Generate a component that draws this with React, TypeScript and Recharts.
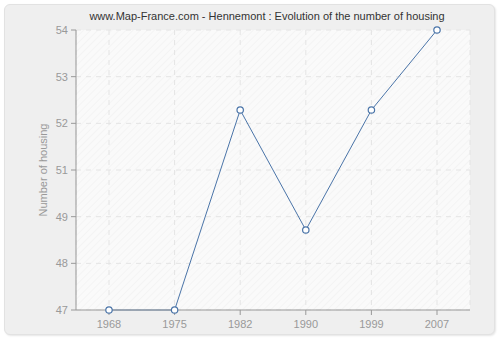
import { LineChart, Line, XAxis, YAxis, CartesianGrid } from 'recharts';

const years = ['1968', '1975', '1982', '1990', '1999', '2007'];
const housing = [47, 47, 52, 49, 52, 54];
const yTicks = [47, 48.1667, 49.3333, 50.5, 51.6667, 52.8333, 54];

const data = years.map((year, i) => ({ year, value: housing[i] }));

const FONT = '"Liberation Sans", Arial, sans-serif';

export default function App() {
    return (
        <div style={{ position: 'absolute', left: 0, top: 0, width: 500, height: 340, background: '#fff', fontFamily: FONT }}>
            <div style={{ position: 'absolute', left: 4, top: 4, width: 491, height: 331, background: '#efefef', border: '1px solid #e2e2e2', borderRadius: 6, boxSizing: 'border-box', boxShadow: '1px 1px 2px #e6e6e6' }} />
            <div style={{ position: 'absolute', left: 0, top: 10, width: 534, textAlign: 'center', fontSize: 11, color: '#333' }}>
                www.Map-France.com - Hennemont : Evolution of the number of housing
            </div>
            <div style={{ position: 'absolute', left: 0, top: 0 }}>
                <LineChart width={500} height={340} data={data} margin={{ top: 30, right: 30, bottom: 0, left: 0 }}>
                    <defs>
                        <pattern id="hatch" width="5" height="5" patternUnits="userSpaceOnUse" patternTransform="rotate(45)">
                            <rect width="5" height="5" fill="#fafafa" />
                            <line x1="0" y1="0" x2="0" y2="5" stroke="#efefef" strokeWidth="1" />
                        </pattern>
                    </defs>
                    <CartesianGrid stroke="#e4e4e4" strokeDasharray="5 5" fill="url(#hatch)" fillOpacity={1} />
                    <XAxis
                        dataKey="year"
                        height={30}
                        padding={{ left: 33, right: 33 }}
                        stroke="#999"
                        tick={{ fill: '#999', fontSize: 11, fontFamily: FONT }}
                        tickSize={5}
                        tickMargin={5}
                    />
                    <YAxis
                        width={76}
                        domain={[47, 54]}
                        ticks={yTicks}
                        tickFormatter={(v: number) => String(Math.round(v))}
                        interval={0}
                        stroke="#999"
                        tick={{ fill: '#999', fontSize: 11, fontFamily: FONT }}
                        tickSize={5}
                        tickMargin={3}
                        label={{ value: 'Number of housing', angle: -90, position: 'insideLeft', offset: 43, style: { fill: '#999', fontSize: 11, fontFamily: FONT, textAnchor: 'middle' } }}
                    />
                    <Line
                        type="linear"
                        dataKey="value"
                        stroke="#4a74a8"
                        strokeWidth={1}
                        dot={{ r: 3.2, fill: '#fff', stroke: '#4a74a8', strokeWidth: 1.2 }}
                        isAnimationActive={false}
                    />
                </LineChart>
            </div>
        </div>
    );
}
